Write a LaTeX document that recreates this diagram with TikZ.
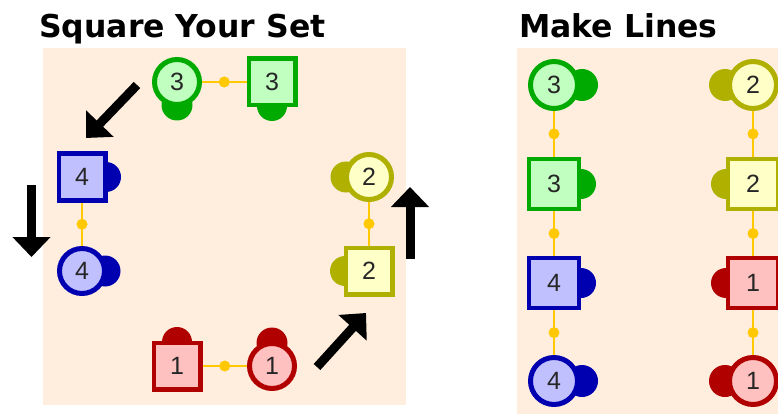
\documentclass[tikz,border=0pt]{standalone}
\usepackage{fontspec}
\setmainfont{Liberation Sans}
\newfontfamily\titlefont{DejaVu Sans}
\usetikzlibrary{arrows.meta}
\definecolor{bgc}{RGB}{255,238,222}
\definecolor{orc}{RGB}{255,200,0}
\definecolor{sgreen}{RGB}{0,170,0}
\definecolor{fgreen}{RGB}{192,255,192}
\definecolor{sblue}{RGB}{0,0,176}
\definecolor{fblue}{RGB}{192,192,255}
\definecolor{syel}{RGB}{176,176,0}
\definecolor{fyel}{RGB}{255,255,200}
\definecolor{sred}{RGB}{176,0,0}
\definecolor{fred}{RGB}{255,192,192}
\tikzset{
  panel/.style={fill=bgc, draw=none},
  ttl/.style={anchor=base west, inner sep=0pt, font=\titlefont\bfseries\fontsize{31.5}{36}\selectfont},
  cnode/.style={circle, line width=5pt, inner sep=0pt, text=black!85, font=\fontsize{25}{28}\selectfont},
  snode/.style={rectangle, line width=4.5pt, inner sep=0pt, text=black!85, font=\fontsize{25}{28}\selectfont},
  grn/.style={draw=sgreen, fill=fgreen},
  blu/.style={draw=sblue, fill=fblue},
  yel/.style={draw=syel, fill=fyel},
  red/.style={draw=sred, fill=fred},
  link/.style={draw=orc, line width=2.5pt},
  ldot/.style={circle, fill=orc, inner sep=0pt, minimum size=11pt},
  bigarrow/.style={line width=9pt, -{Triangle[width=37pt,length=20pt]}},
}
\begin{document}
\begin{tikzpicture}[x=1pt,y=-1pt]
\useasboundingbox (0,0) rectangle (778,414);
% panels
\fill[panel] (43,48) rectangle (406,405);
\fill[panel] (517,48) rectangle (778,414);
% titles
\node[ttl] (t1) at (39,38) {Square Your Set};
\node[ttl] (t2) at (519,38) {Make Lines};

% ---------- left panel: bumps ----------
\fill[sgreen] (177,105) circle (15.5pt);
\fill[sgreen] (272,106) circle (15pt);
\fill[sblue] (106,177) circle (15pt);
\fill[sblue] (105,271) circle (15.5pt);
\fill[syel] (346,177) circle (15.5pt);
\fill[syel] (345,271) circle (15pt);
\fill[sred] (177,342) circle (15pt);
\fill[sred] (272,343) circle (15.5pt);
% nodes
\node[cnode, grn, minimum size=45pt] (a3c) at (177,82) {3};
\node[snode, grn, minimum size=46.5pt] (a3s) at (272,82) {3};
\node[snode, blu, minimum size=46.5pt] (a4s) at (82,177) {4};
\node[cnode, blu, minimum size=45pt] (a4c) at (82,271) {4};
\node[cnode, yel, minimum size=45pt] (a2c) at (369,177) {2};
\node[snode, yel, minimum size=46.5pt] (a2s) at (369,271) {2};
\node[snode, red, minimum size=46.5pt] (a1s) at (177,366) {1};
\node[cnode, red, minimum size=45pt] (a1c) at (272,366) {1};
% links
\draw[link] (a3c) -- node[ldot] (d1) {} (a3s);
\draw[link] (a4s) -- node[ldot] (d2) {} (a4c);
\draw[link] (a2c) -- node[ldot] (d3) {} (a2s);
\draw[link] (a1s) -- node[ldot] (d4) {} (a1c);
% arrows
\coordinate (p1) at (137,85);  \coordinate (q1) at (86,138);
\coordinate (p2) at (31.5,185); \coordinate (q2) at (31.5,257);
\coordinate (p3) at (410,259); \coordinate (q3) at (410,187);
\coordinate (p4) at (317,367); \coordinate (q4) at (366,313);
\draw[bigarrow] (p1) -- (q1);
\draw[bigarrow] (p2) -- (q2);
\draw[bigarrow] (p3) -- (q3);
\draw[bigarrow] (p4) -- (q4);

% ---------- right panel: bumps ----------
\fill[sgreen] (582,85) circle (16pt);
\fill[sgreen] (581,184) circle (15pt);
\fill[sblue] (581,283) circle (15pt);
\fill[sblue] (582,381) circle (16pt);
\fill[syel] (725,85) circle (16pt);
\fill[syel] (726,184) circle (15pt);
\fill[sred] (726,283) circle (15pt);
\fill[sred] (725,381) circle (16pt);
% nodes
\node[cnode, grn, minimum size=47pt] (b3c) at (554,85) {3};
\node[snode, grn, minimum size=50pt] (b3s) at (554,184) {3};
\node[snode, blu, minimum size=50pt] (b4s) at (554,283) {4};
\node[cnode, blu, minimum size=47pt] (b4c) at (554,381) {4};
\node[cnode, yel, minimum size=47pt] (b2c) at (753,85) {2};
\node[snode, yel, minimum size=50pt] (b2s) at (753,184) {2};
\node[snode, red, minimum size=50pt] (b1s) at (753,283) {1};
\node[cnode, red, minimum size=47pt] (b1c) at (753,381) {1};
% links
\draw[link] (b3c) -- node[ldot] (e1) {} (b3s);
\draw[link] (b3s) -- node[ldot] (e2) {} (b4s);
\draw[link] (b4s) -- node[ldot] (e3) {} (b4c);
\draw[link] (b2c) -- node[ldot] (e4) {} (b2s);
\draw[link] (b2s) -- node[ldot] (e5) {} (b1s);
\draw[link] (b1s) -- node[ldot] (e6) {} (b1c);
\end{tikzpicture}
\end{document}
